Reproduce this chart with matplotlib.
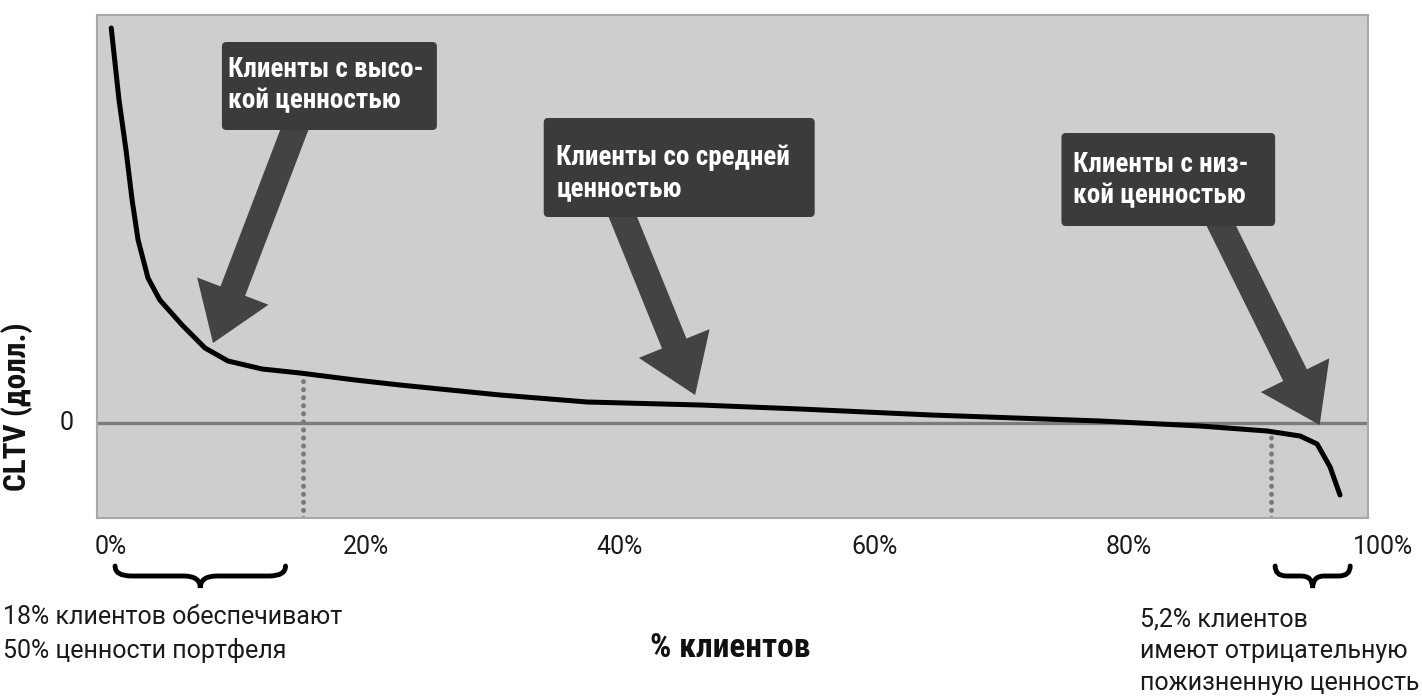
import numpy as np
import matplotlib
matplotlib.use('Agg')
import matplotlib.pyplot as plt
from matplotlib import font_manager
from matplotlib.patches import FancyBboxPatch, PathPatch
from matplotlib.path import Path
from matplotlib.transforms import blended_transform_factory

# CLTV curve (% of customers, CLTV in arbitrary units)
pct = [0.0, 0.61, 1.16, 1.64, 2.11, 2.89, 3.82, 5.57, 7.37, 9.18, 11.86,
       14.84, 19.18, 22.70, 30.57, 37.41, 46.29, 54.15, 64.45, 77.74,
       85.60, 90.87, 93.46, 94.80, 95.82, 96.60]
cltv = [3.95, 3.23, 2.73, 2.23, 1.83, 1.45, 1.23, 0.98, 0.75, 0.62, 0.54,
        0.50, 0.43, 0.38, 0.28, 0.21, 0.18, 0.14, 0.08, 0.02,
        -0.03, -0.08, -0.13, -0.21, -0.44, -0.72]

xticks = [0, 20, 40, 60, 80, 100]
xtick_labels = ['0%', '20%', '40%', '60%', '80%', '100%']

# dotted markers: 18% of value / start of negative CLTV
marks = [15.1, 91.2]

# callouts: label, box (x0, x1, y_top, y_bottom), text anchor, arrow tail, arrow tip
labels = ['Клиенты с высо-\nкой ценностью',
          'Клиенты со средней\nценностью',
          'Клиенты с низ-\nкой ценностью']
boxes = [(8.7, 25.6, 3.81, 2.93), (34.0, 55.3, 3.05, 2.06), (74.7, 91.5, 2.90, 1.97)]
text_at = [(9.2, 3.38), (35.0, 2.50), (75.6, 2.43)]
tails = [(14.6, 3.0), (40.0, 2.13), (87.0, 2.04)]
tips = [(8.0, 0.80), (45.9, 0.28), (95.0, -0.02)]

# braces under the axis
braces = [(0.3, 13.7), (91.5, 97.4)]
notes = ['18% клиентов обеспечивают\n50% ценности портфеля',
         '5,2% клиентов\nимеют отрицательную\nпожизненную ценность']

names = {f.name for f in font_manager.fontManager.ttflist}
def pick(*cands):
    for c in cands:
        if c in names:
            return c
    return 'DejaVu Sans'
narrow = pick('Roboto Condensed', 'Liberation Sans Narrow', 'Roboto')
plain = pick('Roboto', 'Liberation Sans')

W, H = 1422, 700
fig = plt.figure(figsize=(W / 100, H / 100), dpi=100)
ax = fig.add_axes([97 / W, 182 / H, 1271 / W, 503 / H])
ax.set_facecolor('#cecece')
for s in ax.spines.values():
    s.set_color('#a8a8a8')
    s.set_linewidth(1.5)
ax.set_xlim(-1.12, 98.8)
ax.set_ylim(-0.95, 4.08)
ax.set_xticks([])
ax.set_yticks([])

ax.axhline(0, color='#7c7c7c', lw=2.4, zorder=1)
for m in marks:
    ax.plot([m, m], [-0.95, np.interp(m, pct, cltv)], color='#7a7a7a', lw=3.6,
            ls=(0, (0.01, 1.6)), dash_capstyle='round', zorder=2)
ax.plot(pct, cltv, color='black', lw=3.6, solid_capstyle='round',
        solid_joinstyle='round', zorder=3)

for lab, (x0, x1, yt, yb), (tx, ty), tail, tip in zip(labels, boxes, text_at, tails, tips):
    ax.add_patch(FancyBboxPatch((x0, yb), x1 - x0, yt - yb,
                                boxstyle='round,pad=0,rounding_size=0.35',
                                mutation_aspect=0.127, fc='#3b3b3b', ec='none', zorder=4))
    ax.text(tx, ty, lab, color='white', fontsize=19.5, fontweight='bold',
            family=narrow, ha='left', va='center', linespacing=1.2, zorder=5)
    ax.annotate('', xy=tip, xytext=tail,
                arrowprops=dict(arrowstyle='simple,head_length=0.40,head_width=0.55,tail_width=0.19',
                                mutation_scale=100, fc='#434343', ec='none',
                                shrinkA=0, shrinkB=0), zorder=3.5)

# tick labels (100% sits outside the gray panel)
tx_fig = blended_transform_factory(ax.transData, fig.transFigure)
for v, lab in zip(xticks, xtick_labels):
    ax.text(v, 1 - 547 / H, lab, transform=tx_fig, ha='center', va='center',
            fontsize=18, family=plain, color='#1a1a1a', clip_on=False)
ax.text(67 / W, 0, '0', transform=blended_transform_factory(fig.transFigure, ax.transData),
        ha='center', va='center', fontsize=18, family=plain, color='#1a1a1a')

fig.text(17 / W, 1 - 407 / H, 'CLTV (долл.)', rotation=90, ha='center', va='center',
         fontsize=22.5, fontweight='bold', family=narrow, color='#111111')
fig.text(730 / W, 1 - 648 / H, '% клиентов', ha='center', va='center',
         fontsize=24, fontweight='bold', family=narrow, color='#111111')

# braces
def brace_path(x0, x1, ye, ym, yt, w):
    xm = (x0 + x1) / 2
    verts = [(x0, ye), (x0, ym), (x0 + w, ym), (xm - w, ym), (xm, ym), (xm, yt),
             (xm, ym), (xm + w, ym), (x1 - w, ym), (x1, ym), (x1, ye)]
    codes = [Path.MOVETO, Path.CURVE3, Path.CURVE3, Path.LINETO, Path.CURVE3, Path.CURVE3,
             Path.CURVE3, Path.CURVE3, Path.LINETO, Path.CURVE3, Path.CURVE3]
    return Path(verts, codes)

for (b0, b1), w in zip(braces, [1.3, 0.9]):
    p = brace_path(b0, b1, 1 - 566 / H, 1 - 576 / H, 1 - 588 / H, w)
    ax.add_patch(PathPatch(p, transform=tx_fig, fc='none', ec='black', lw=3.5,
                           capstyle='round', clip_on=False))

fig.text(3 / W, 1 - 634 / H, notes[0], ha='left', va='center', fontsize=18,
         family=plain, color='#1a1a1a', linespacing=1.42)
fig.text(1140 / W, 1 - 651 / H, notes[1], ha='left', va='center', fontsize=18,
         family=plain, color='#1a1a1a', linespacing=1.42)

fig.savefig('out.png', dpi=100, facecolor='white')
